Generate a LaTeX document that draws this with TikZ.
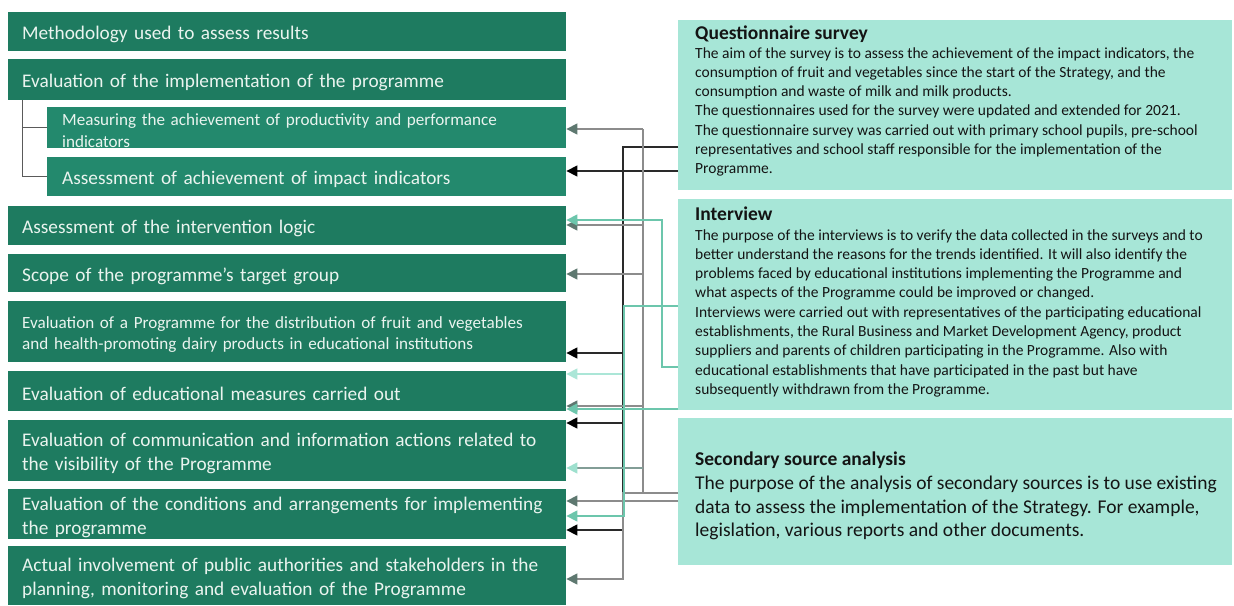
\documentclass[tikz,border=0pt]{standalone}
\usepackage{fontspec}
\setmainfont{Carlito}
\usetikzlibrary{arrows.meta}
\definecolor{boxdark}{HTML}{1E7B60}
\definecolor{boxsub}{HTML}{23896D}
\definecolor{boxtext}{HTML}{EAF4EF}
\definecolor{mint}{HTML}{A7E6D7}
\definecolor{lgrey}{HTML}{8C8C8C}
\definecolor{headgrey}{HTML}{5E7870}
\definecolor{lteal}{HTML}{6CC6AC}
\definecolor{pteal}{HTML}{ABE6D7}
\definecolor{darkln}{HTML}{2A2A2A}
\definecolor{treeln}{HTML}{5A5A5A}
\tikzset{
  lbox/.style={anchor=north west, fill=boxdark, text=boxtext, align=left,
    inner xsep=14pt, inner ysep=0pt, text width=530pt,
    font=\fontsize{19.3}{24}\selectfont,
    execute at begin node={\rule{0pt}{1.02em}}},
  sbox/.style={lbox, fill=boxsub, inner xsep=15pt, text width=489pt},
  smallfont/.style={font=\fontsize{17.1}{21.5}\selectfont},
  rbox/.style={anchor=north west, fill=mint, minimum width=554pt, inner sep=0pt},
  rtitle/.style={anchor=base west, inner sep=0pt, text=black!92, font=\fontsize{19.5}{23.5}\selectfont\bfseries},
  rbody/.style={anchor=base west, inner sep=0pt, text=black!92},
  tip/.style={-{Triangle[length=11pt,width=11pt,color=#1]}},
  garr/.style={draw=lgrey, line width=1.4pt, tip=headgrey},
  gltarr/.style={draw=lgrey!70!lteal, line width=1.4pt, tip=pteal!80!lteal},
  gline/.style={draw=lgrey, line width=1.4pt},
  karr/.style={draw=darkln, line width=1.4pt, tip=black},
  kline/.style={draw=darkln, line width=1.4pt},
  tarr/.style={draw=lteal, line width=1.4pt, tip=lteal},
  tline/.style={draw=lteal, line width=1.4pt},
  parr/.style={draw=pteal, line width=1.4pt, tip=pteal},
  treeline/.style={draw=treeln, line width=0.8pt},
}
\begin{document}
\begin{tikzpicture}[x=1pt,y=-1pt]
\useasboundingbox (0,0) rectangle (1234,605);
\fill[white] (0,0) rectangle (1234,605);

% left boxes
\node[lbox, minimum height=39pt] (b1) at (8,12) {Methodology used to assess results};
\node[lbox, minimum height=41pt] (b2) at (8,59) {Evaluation of the implementation of the programme};
\node[sbox, smallfont, minimum height=41pt] (b3) at (47,107) {Measuring the achievement of productivity and performance\\indicators};
\node[sbox, minimum height=39pt] (b4) at (47,157) {Assessment of achievement of impact indicators};
\node[lbox, minimum height=39pt] (b5) at (8,206) {Assessment of the intervention logic};
\node[lbox, minimum height=38pt] (b6) at (8,254) {Scope of the programme's target group};
\node[lbox, smallfont, minimum height=61pt] (b7) at (8,301) {Evaluation of a Programme for the distribution of fruit and vegetables\\and health-promoting dairy products in educational institutions};
\node[lbox, minimum height=40pt] (b8) at (8,371) {Evaluation of educational measures carried out};
\node[lbox, minimum height=61pt] (b9) at (8,420) {Evaluation of communication and information actions related to\\the visibility of the Programme};
\node[lbox, minimum height=50pt] (b10) at (8,489) {Evaluation of the conditions and arrangements for implementing\\the programme};
\node[lbox, minimum height=59pt] (b11) at (8,546) {Actual involvement of public authorities and stakeholders in the\\planning, monitoring and evaluation of the Programme};

% tree
\draw[treeline] ([xshift=14pt]b2.south west) |- (b3.west);
\draw[treeline] ([xshift=14pt]b2.south west) |- (b4.west);

% right boxes
\node[rbox, minimum height=170pt] (q) at (678,20) {};
\node[rbox, minimum height=211pt] (i) at (678,199) {};
\node[rbox, minimum height=147pt] (s) at (678,418) {};

\node[rtitle] (qt) at (695,39.5) {Questionnaire survey};
\node[rbody] (qb) at (695,58) {\fontsize{15.5}{19.3}\selectfont\parbox[t]{530pt}{%
The aim of the survey is to assess the achievement of the impact indicators, the\\
consumption of fruit and vegetables since the start of the Strategy, and the\\
consumption and waste of milk and milk products.\\
The questionnaires used for the survey were updated and extended for 2021.\\
The questionnaire survey was carried out with primary school pupils, pre-school\\
representatives and school staff responsible for the implementation of the\\
Programme.}};

\node[rtitle] (it) at (695,220.5) {Interview};
\node[rbody] (ib) at (695,240) {\fontsize{15.5}{19.3}\selectfont\parbox[t]{530pt}{%
The purpose of the interviews is to verify the data collected in the surveys and to\\
better understand the reasons for the trends identified. It will also identify the\\
problems faced by educational institutions implementing the Programme and\\
what aspects of the Programme could be improved or changed.\\
Interviews were carried out with representatives of the participating educational\\
establishments, the Rural Business and Market Development Agency, product\\
suppliers and parents of children participating in the Programme. Also with\\
educational establishments that have participated in the past but have\\
subsequently withdrawn from the Programme.}};

\node[rtitle] (st) at (695,465.5) {Secondary source analysis};
\node[rbody] (sb) at (695,489.5) {\fontsize{19.5}{23.5}\selectfont\parbox[t]{530pt}{%
The purpose of the analysis of secondary sources is to use existing\\
data to assess the implementation of the Strategy. For example,\\
legislation, various reports and other documents.}};

% black connectors (questionnaire survey)
\draw[karr] (q.west |- 0,147) -- (623,147) -- (623,530) -- (b10.east |- 0,530);
\draw[karr] (623,353) -- (b7.east |- 0,353);
\draw[karr] (623,423) -- (b9.east |- 0,423);
\draw[karr] (q.west |- 0,171) -- (b4.east |- 0,171);

% grey connectors (secondary source analysis)
\draw[gline] (643,493) -- (643,129);
\draw[garr] (s.west |- 0,493) -- (623,493) -- (623,579) -- (b11.east |- 0,579);
\draw[garr] (643,129) -- (b3.east |- 0,129);
\draw[garr] (643,225) -- (b5.east |- 0,225);
\draw[garr] (643,274) -- (b6.east |- 0,274);
\draw[garr] (643,406) -- (b8.east |- 0,406);
\draw[gltarr] (643,468) -- (b9.east |- 0,468);
\draw[garr] (s.west |- 0,501) -- (b10.east |- 0,501);

% teal connectors (interview)
\draw[tarr] (i.west |- 0,306) -- (624,306) -- (624,516) -- (b10.east |- 0,516);
\draw[parr] (622,374) -- (b8.east |- 0,374);
\draw[tarr] (i.west |- 0,367) -- (662,367) -- (662,220) -- (b5.east |- 0,220);
\draw[tarr] (i.west |- 0,409) -- (b8.east |- 0,409);
\end{tikzpicture}
\end{document}
